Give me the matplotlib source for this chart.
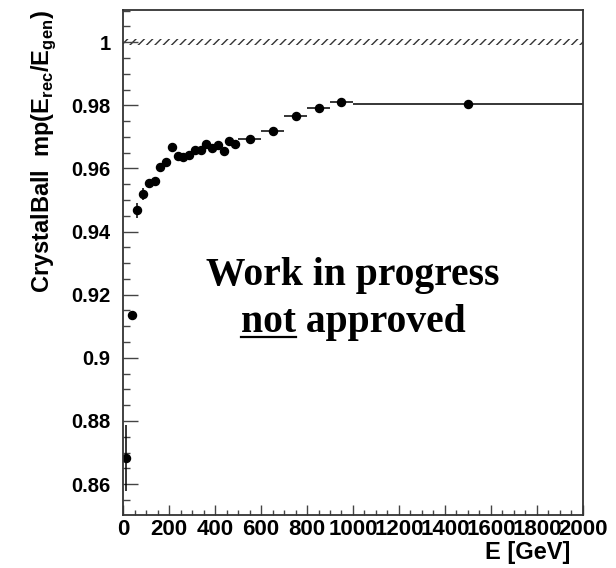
import matplotlib
matplotlib.use("Agg")
import matplotlib.pyplot as plt
import numpy as np
from matplotlib.ticker import MultipleLocator
from matplotlib.lines import Line2D

plt.rcParams["font.family"] = ["Liberation Sans", "DejaVu Sans"]
plt.rcParams["mathtext.fontset"] = "custom"
plt.rcParams["mathtext.rm"] = "Liberation Sans:bold"
plt.rcParams["hatch.linewidth"] = 1.0

# Energy bins [GeV] and fitted peak position of E_rec/E_gen per bin
bin_edges = [0, 25, 50, 75, 100, 125, 150, 175, 200, 225, 250, 275, 300, 325,
             350, 375, 400, 425, 450, 475, 500, 600, 700, 800, 900, 1000, 2000]
peak = [0.8683, 0.9137, 0.9467, 0.9520, 0.9553, 0.9559, 0.9604, 0.9620,
        0.9668, 0.9638, 0.9636, 0.9643, 0.9659, 0.9659, 0.9678, 0.9665,
        0.9675, 0.9655, 0.9686, 0.9676, 0.9694, 0.9718, 0.9766, 0.9793,
        0.9811, 0.9805]
peak_err = [0.0105, 0.0010, 0.0024, 0.0019, 0.0010, 0.0008, 0.0008, 0.0008,
            0.0007, 0.0007, 0.0007, 0.0007, 0.0007, 0.0007, 0.0007, 0.0007,
            0.0007, 0.0007, 0.0007, 0.0007, 0.0006, 0.0006, 0.0006, 0.0006,
            0.0006, 0.0006]

# reference band around unity
band_lo, band_hi = 0.999, 1.001

edges = np.array(bin_edges, dtype=float)
centers = 0.5 * (edges[:-1] + edges[1:])
half_w = 0.5 * np.diff(edges)

fig = plt.figure(figsize=(6.16, 5.68), dpi=100)
ax = fig.add_axes([0.1997, 0.0933, 0.7467, 0.8891])

ax.fill_between([edges[0], edges[-1]], band_lo, band_hi, facecolor="none",
                edgecolor="#333333", hatch="////", linewidth=0)

ax.errorbar(centers, peak, xerr=half_w, yerr=peak_err, fmt="o", color="black",
            markersize=5.8, elinewidth=1.1, capsize=0)

ax.set_xlim(0, 2000)
ax.set_ylim(0.8502, 1.0102)

ax.xaxis.set_major_locator(MultipleLocator(200))
ax.xaxis.set_minor_locator(MultipleLocator(50))
ax.yaxis.set_major_locator(MultipleLocator(0.02))
ax.yaxis.set_minor_locator(MultipleLocator(0.005))
ax.yaxis.set_major_formatter(plt.FuncFormatter(lambda v, p: f"{v:g}"))

ax.tick_params(which="both", direction="in", top=False, right=False,
               color="#444444", width=1.0)
ax.tick_params(axis="x", which="major", length=7.2, labelsize=16, pad=3)
ax.tick_params(axis="x", which="minor", length=3.6)
ax.tick_params(axis="y", which="major", length=10.8, labelsize=14.5, pad=9)
ax.tick_params(axis="y", which="minor", length=5.0)
for lbl in ax.get_xticklabels() + ax.get_yticklabels():
    lbl.set_fontweight("bold")
for sp in ax.spines.values():
    sp.set_color("#333333")
    sp.set_linewidth(1.3)

ax.text(0.972, -0.075, "E [GeV]", transform=ax.transAxes, ha="right",
        va="center", fontsize=17, fontweight="bold")
ax.text(-0.172, 1.0, r"CrystalBall  mp(E$_{\mathrm{rec}}$/E$_{\mathrm{gen}}$)",
        transform=ax.transAxes, rotation=90, ha="center", va="top",
        fontsize=17, fontweight="bold")

# watermark
serif = dict(family="Liberation Serif", fontsize=28.5, fontweight="bold")
ax.text(0.5, 0.455, "Work in progress", transform=ax.transAxes, ha="center",
        va="baseline", **serif)
line2 = ax.text(0.5, 0.363, "not approved", transform=ax.transAxes,
                ha="center", va="baseline", **serif)

# underline the word "not"
fig.canvas.draw()
renderer = fig.canvas.get_renderer()
bb = line2.get_window_extent(renderer)
probe = ax.text(0, 0, "not", **serif)
w_not = probe.get_window_extent(renderer).width
probe.remove()
inv = ax.transAxes.inverted()
x0, _ = inv.transform((bb.x0, 0))
x1, _ = inv.transform((bb.x0 + w_not, 0))
ax.add_line(Line2D([x0, x1], [0.352, 0.352], transform=ax.transAxes,
                   color="black", linewidth=1.6))

fig.savefig("out.png", dpi=100)
